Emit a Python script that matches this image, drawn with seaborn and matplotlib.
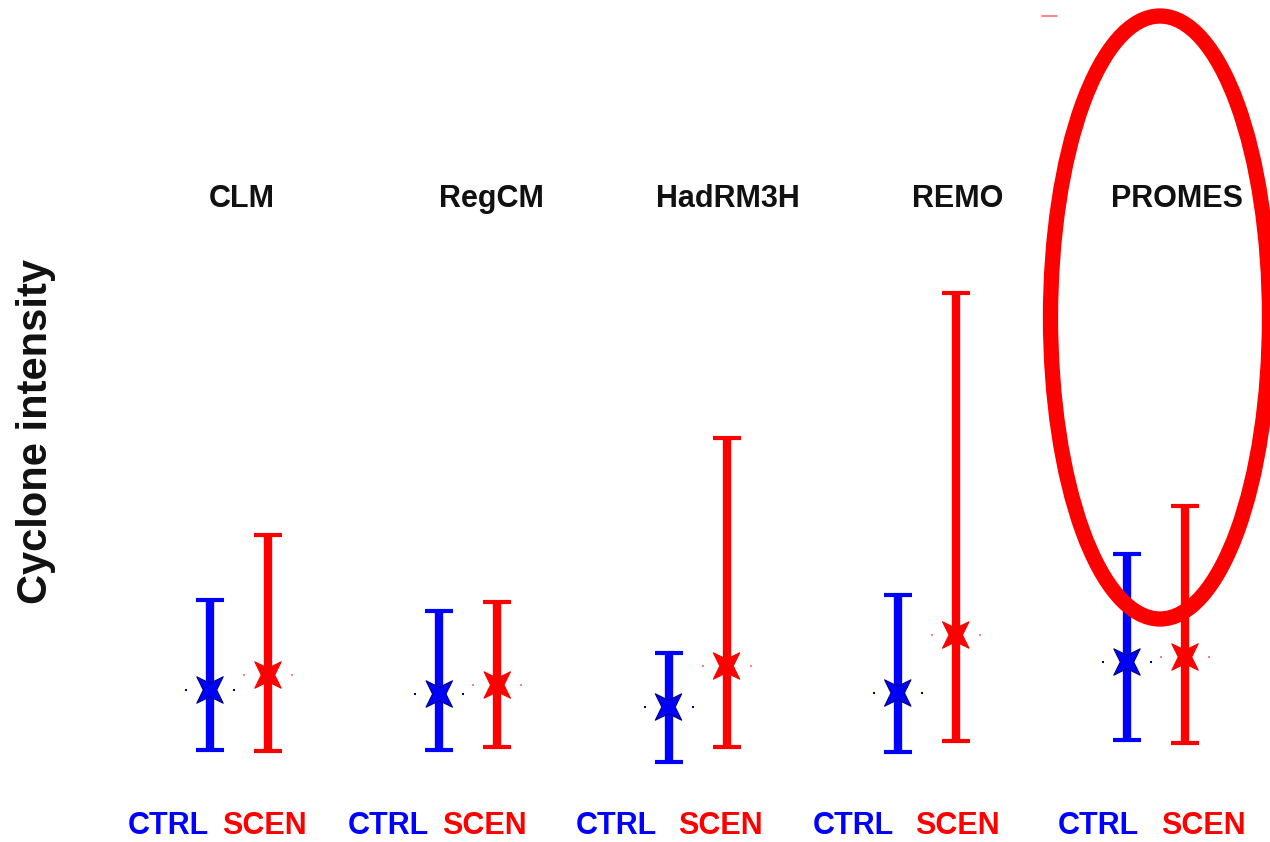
import numpy as np
import pandas as pd
import matplotlib
matplotlib.use("Agg")
import matplotlib.pyplot as plt
from matplotlib.patches import Ellipse
from matplotlib.path import Path
from matplotlib.markers import MarkerStyle
import seaborn as sns

# Regional climate models and their cyclone intensity statistics
models = ["CLM", "RegCM", "HadRM3H", "REMO", "PROMES"]
ctrl_mean = [5.5, 5.3, 4.65, 5.35, 6.9]
ctrl_low = [2.5, 2.5, 1.9, 2.4, 3.0]
ctrl_high = [10.0, 9.45, 7.35, 10.25, 12.3]
scen_mean = [6.25, 5.75, 6.7, 8.25, 7.15]
scen_low = [2.45, 2.65, 2.65, 2.95, 2.85]
scen_high = [13.25, 9.9, 18.1, 25.35, 14.7]
run_labels = ["CTRL", "SCEN"]

BLUE = "#0000ff"
RED = "#ff0000"
NAVY = "#000080"

sns.set_theme(style="white")
plt.rcParams["font.family"] = ["Liberation Sans", "DejaVu Sans"]

W, H, DPI = 1270, 842, 100
fig = plt.figure(figsize=(W / DPI, H / DPI), dpi=DPI)
ax = fig.add_axes([0, 0, 1, 1])

# Horizontal layout: one slot per model, runs side by side
slot0, slot_w, half_gap = 239.0, 229.25, 29.0
ax.set_xlim(-slot0 / slot_w, (W - slot0) / slot_w)
# Vertical scale: 20 pixels per intensity unit, baseline near the bottom
ax.set_ylim((800 - H) / 20.0, 800 / 20.0)
ax.set_axis_off()

idx = np.arange(len(models))
dx = half_gap / slot_w

rows = []
for i, m in enumerate(models):
    rows.append(dict(model=m, run="CTRL", x=idx[i] - dx, mean=ctrl_mean[i],
                     low=ctrl_low[i], high=ctrl_high[i]))
    rows.append(dict(model=m, run="SCEN", x=idx[i] + dx, mean=scen_mean[i],
                     low=scen_low[i], high=scen_high[i]))
df = pd.DataFrame(rows)

colors = {"CTRL": BLUE, "SCEN": RED}
edges = {"CTRL": NAVY, "SCEN": RED}

# Four-pointed concave star, arms on the diagonals
ang_out = np.deg2rad([45, 135, 225, 315])
ang_in = np.deg2rad([90, 180, 270, 360])
pts = []
for ao, ai in zip(ang_out, ang_in):
    pts.append((np.cos(ao), np.sin(ao)))
    pts.append((0.36 * np.cos(ai), 0.36 * np.sin(ai)))
pts.append(pts[0])
codes = [Path.MOVETO] + [Path.LINETO] * (len(pts) - 2) + [Path.CLOSEPOLY]
star = MarkerStyle(Path(pts, codes))

for run, sub in df.groupby("run"):
    yerr = np.vstack([sub["mean"] - sub["low"], sub["high"] - sub["mean"]])
    ax.errorbar(sub["x"], sub["mean"], yerr=yerr, fmt="none",
                ecolor=colors[run], elinewidth=6.0, capsize=10, capthick=3.0,
                zorder=2)
    # faint dotted guide either side of the mean
    ax.scatter(np.r_[sub["x"] - 24 / slot_w, sub["x"] + 24 / slot_w],
               np.r_[sub["mean"], sub["mean"]], s=1.2, marker="s",
               color=edges[run] if run == "CTRL" else "#ff8080",
               linewidths=0, zorder=1)

sns.scatterplot(data=df, x="x", y="mean", hue="run", palette=colors,
                marker=star, s=360, legend=False, ax=ax, zorder=3,
                linewidth=0.8, edgecolor=[edges[r] for r in df["run"]])

# Model names above the columns
title_dx = [3, 23, 30, 31, 21]
for i, m in enumerate(models):
    ax.text(idx[i] + title_dx[i] / slot_w, (800 - 199) / 20.0, m,
            ha="center", va="center", fontsize=22, fontweight="bold",
            color="#111111")

# Run labels under each pair
ctrl_lab_px = [168, 388, 616, 853, 1098]
scen_lab_px = [264, 484, 720, 957, 1203]
for px, lab, col in [(p, run_labels[0], BLUE) for p in ctrl_lab_px] + \
                    [(p, run_labels[1], RED) for p in scen_lab_px]:
    fig.text(px / W, 1 - 834 / H, lab, ha="center", va="baseline",
             fontsize=22, fontweight="bold", color=col)

fig.text(36 / W, 1 - 432 / H, "Cyclone intensity", rotation=90,
         ha="center", va="center", fontsize=30, fontweight="bold",
         color="#111111")

# Highlight around the PROMES pair
ell = Ellipse(((1160 - slot0) / slot_w, (800 - 317.5) / 20.0),
              width=219 / slot_w, height=603 / 20.0, fill=False,
              edgecolor=RED, linewidth=11, zorder=4)
ax.add_patch(ell)
ax.plot([(1042 - slot0) / slot_w, (1057 - slot0) / slot_w],
        [(800 - 16) / 20.0] * 2, color="#ff7070", linewidth=1.2, zorder=4)

fig.savefig("out.png", dpi=DPI)
